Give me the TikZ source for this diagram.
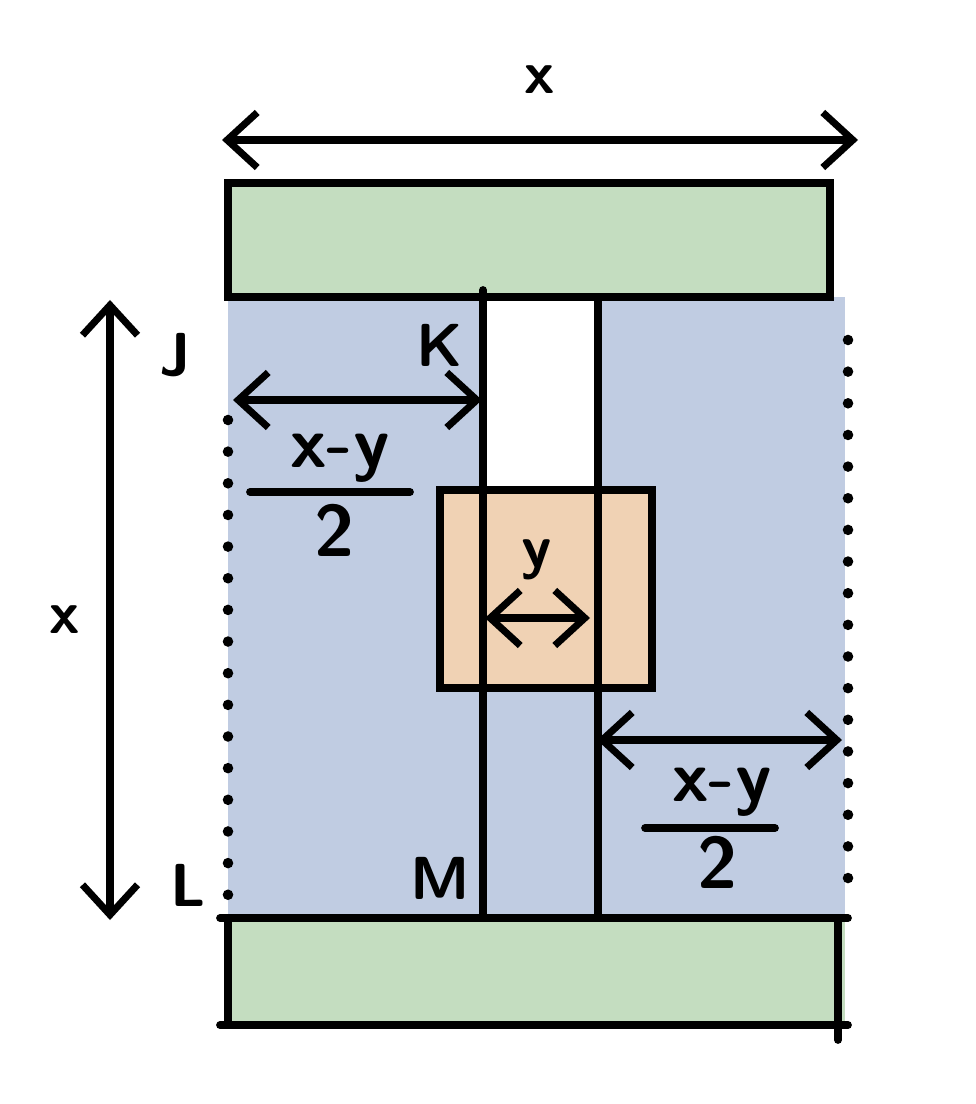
\documentclass[tikz,border=0pt]{standalone}
\usetikzlibrary{arrows.meta}
\definecolor{panelblue}{RGB}{192,204,226}
\definecolor{bargreen}{RGB}{196,221,192}
\definecolor{boxorange}{RGB}{240,210,180}
\tikzset{
  edge/.style={line width=2.2pt, line cap=round},
  dim/.style={line width=2pt, {Straight Barb[length=3mm,width=5.5mm]}-{Straight Barb[length=3mm,width=5.5mm]}},
  dots/.style={line width=3pt, dash pattern=on 0pt off 9pt, line cap=round},
  lbl/.style={font=\sffamily\bfseries\LARGE},
  frac/.style={font=\sffamily\bfseries\huge},
}
\begin{document}
\begin{tikzpicture}[x=0.01cm, y=-0.01cm]
    \useasboundingbox (0,0) rectangle (975,1104);
    % panels
    \fill[panelblue] (228,297) rectangle (845,915);
    \fill[white] (483,297) rectangle (598,490);
    \fill[bargreen] (228,183) rectangle (830,297);
    \fill[bargreen] (228,918) rectangle (845,1025);
    \fill[boxorange] (440,490) rectangle (652,688);

    % outlines
    \draw[edge] (228,183) rectangle (830,297);
    \draw[edge] (220,918) -- (848,918) (228,918) -- (228,1025) (220,1025) -- (848,1025) (838,918) -- (838,1040);
    \draw[edge] (440,490) rectangle (652,688);
    \draw[edge] (483,290) -- (483,915);
    \draw[edge] (598,297) -- (598,915);
    \draw[dots] (228,420) -- (228,905);
    \draw[dots] (848,340) -- (848,905);

    % dimensions
    \coordinate (tl) at (222,140); \coordinate (tr) at (858,140);
    \draw[dim] (tl) -- (tr);
    \node[lbl] (tx) at (540,80) {x};
    \coordinate (vt) at (110,300); \coordinate (vb) at (110,920);
    \draw[dim] (vt) -- (vb);
    \node[lbl] (vx) at (65,620) {x};
    \coordinate (al) at (233,400); \coordinate (ar) at (482,400);
    \draw[dim] (al) -- (ar);
    \node[frac] (fln) at (340,458) {x-y};
    \node[frac] (fld) at (335,530) {2};
    \coordinate (fla) at (250,492); \coordinate (flb) at (410,492);
    \draw[edge] (fla) -- (flb);
    \coordinate (yl) at (485,618); \coordinate (yr) at (590,618);
    \draw[dim] (yl) -- (yr);
    \node[lbl] (ly) at (537,560) {y};
    \coordinate (bl) at (597,740); \coordinate (br) at (842,740);
    \draw[dim] (bl) -- (br);
    \node[frac] (frn) at (722,792) {x-y};
    \node[frac] (frd) at (718,862) {2};
    \coordinate (fra) at (645,828); \coordinate (frb) at (775,828);
    \draw[edge] (fra) -- (frb);

    % corner letters
    \node[lbl] (J) at (175,355) {J};
    \node[lbl] (K) at (440,345) {K};
    \node[lbl] (L) at (188,885) {L};
    \node[lbl] (M) at (440,878) {M};
\end{tikzpicture}
\end{document}
